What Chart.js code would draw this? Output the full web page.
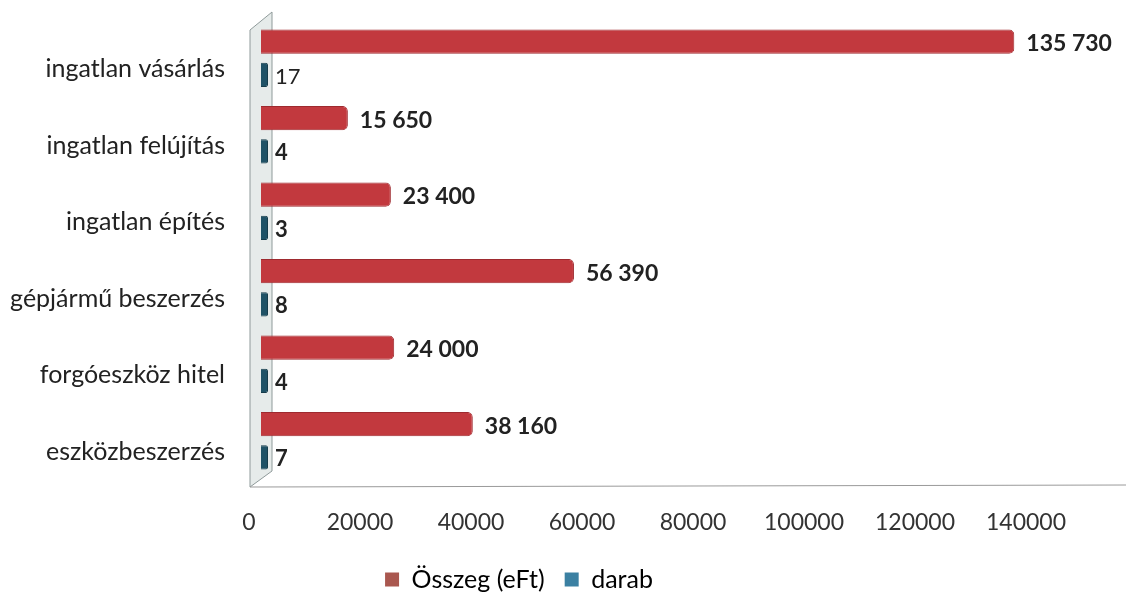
<!DOCTYPE html>
<html>
<head>
<meta charset="utf-8">
<script src="https://cdn.jsdelivr.net/npm/chart.js@4"></script>
<style>
  html, body { margin: 0; padding: 0; background: #fff; }
  #wrap { width: 1126px; height: 596px; }
</style>
</head>
<body>
<div id="wrap"><canvas id="myChart"></canvas></div>
<script>
const categories = ['ingatlan vásárlás', 'ingatlan felújítás', 'ingatlan építés', 'gépjármű beszerzés', 'forgóeszköz hitel', 'eszközbeszerzés'];
const osszeg = [135730, 15650, 23400, 56390, 24000, 38160];
const darab = [17, 4, 3, 8, 4, 7];
const xTicks = [0, 20000, 40000, 60000, 80000, 100000, 120000, 140000];

const FONT = 'Lato, "Open Sans", sans-serif';

function fmt(v) {
    return String(v).replace(/\B(?=(\d{3})+(?!\d))/g, ' ');
}

// back wall + floor line, drawn behind the bars
const wallPlugin = {
    id: 'wall',
    beforeDatasetsDraw(chart) {
        const { ctx, chartArea } = chart;
        const l = chartArea.left, t = chartArea.top, b = chartArea.bottom;
        ctx.save();
        ctx.beginPath();
        ctx.moveTo(l - 11, t + 10);
        ctx.lineTo(l + 11, t - 8);
        ctx.lineTo(l + 11, b - 8);
        ctx.lineTo(l - 11, b + 8);
        ctx.closePath();
        ctx.fillStyle = '#e6ebea';
        ctx.fill();
        ctx.strokeStyle = '#8f9a9a';
        ctx.lineWidth = 1;
        ctx.stroke();
        ctx.beginPath();
        ctx.moveTo(l - 11, b + 8);
        ctx.lineTo(chart.width, b + 6);
        ctx.strokeStyle = '#9a9a9a';
        ctx.stroke();
        ctx.restore();
    }
};

// value labels at the bar ends
const labelPlugin = {
    id: 'valueLabels',
    afterDatasetsDraw(chart) {
        const { ctx } = chart;
        ctx.save();
        ctx.fillStyle = '#222';
        ctx.textBaseline = 'middle';
        chart.data.datasets.forEach((ds, di) => {
            chart.getDatasetMeta(di).data.forEach((bar, i) => {
                const v = ds.data[i];
                const bold = !(di === 1 && i === 0);
                ctx.font = (bold ? 'bold ' : '') + (di === 0 ? '23px ' : '22px ') + FONT;
                ctx.fillText(fmt(v), bar.x + (di === 0 ? 12 : 7), bar.y + 2);
            });
        });
        ctx.restore();
    }
};

new Chart(document.getElementById('myChart'), {
    type: 'bar',
    data: {
        labels: categories,
        datasets: [{
            label: 'Összeg (eFt)',
            data: osszeg,
            backgroundColor: '#c2393e',
            borderColor: '#9e2a2f',
            borderWidth: 1,
            borderRadius: 5,
            borderSkipped: 'start',
            categoryPercentage: 0.87,
            barPercentage: 0.73
        }, {
            label: 'darab',
            data: darab,
            backgroundColor: '#1f5266',
            borderColor: '#163c4b',
            borderWidth: 1,
            borderRadius: 2,
            minBarLength: 7,
            categoryPercentage: 0.87,
            barPercentage: 0.73
        }]
    },
    options: {
        indexAxis: 'y',
        responsive: true,
        maintainAspectRatio: false,
        animation: false,
        layout: { padding: { top: 20, right: 88, bottom: -6, left: 0 } },
        scales: {
            x: {
                min: 0,
                max: 140000,
                afterBuildTicks(scale) {
                    scale.ticks = xTicks.map(v => ({ value: v }));
                },
                afterFit(scale) {
                    scale.height = 68;
                    scale.paddingLeft = 0;
                    scale.paddingRight = 0;
                },
                grid: { display: false, drawTicks: false },
                border: { display: false },
                ticks: {
                    padding: 30,
                    labelOffset: -12,
                    color: '#333',
                    font: { family: FONT, size: 23 },
                    callback: v => String(v)
                }
            },
            y: {
                afterFit(scale) {
                    scale.width = 261;
                    scale.paddingTop = 0;
                    scale.paddingBottom = 0;
                },
                grid: { display: false, drawTicks: false },
                border: { display: false },
                ticks: {
                    padding: 36,
                    labelOffset: 11,
                    color: '#222',
                    font: { family: FONT, size: 25 }
                }
            }
        },
        plugins: {
            legend: {
                position: 'bottom',
                labels: {
                    boxWidth: 14,
                    boxHeight: 14,
                    padding: 20,
                    color: '#222',
                    font: { family: FONT, size: 25 },
                    generateLabels(chart) {
                        const cols = ['#a9574f', '#3b80a2'];
                        return chart.data.datasets.map((ds, i) => ({
                            text: ds.label,
                            fillStyle: cols[i],
                            strokeStyle: cols[i],
                            lineWidth: 0,
                            datasetIndex: i
                        }));
                    }
                }
            },
            tooltip: { enabled: false }
        }
    },
    plugins: [wallPlugin, labelPlugin]
});
</script>
</body>
</html>
